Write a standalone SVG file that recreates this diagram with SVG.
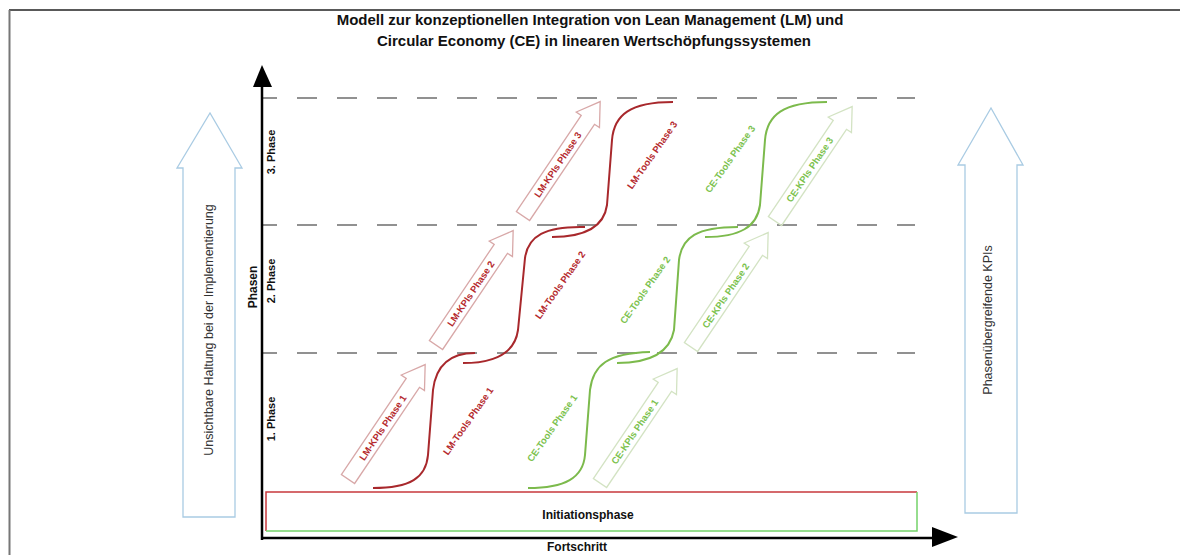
<svg xmlns="http://www.w3.org/2000/svg" width="1180" height="555" viewBox="0 0 1180 555">
<style>
  text { font-family: "Liberation Sans", Arial, sans-serif; }
  .title { font-size: 15px; font-weight: bold; fill: #111; text-anchor: middle; }
  .lab { font-size: 12px; font-weight: bold; fill: #111; text-anchor: middle; }
  .side { font-size: 12.5px; fill: #333; text-anchor: middle; }
  .dash { stroke: #6e6e6e; stroke-width: 1.5; stroke-dasharray: 20 20; stroke-dashoffset: 6; fill: none; }
  .lmk { fill: none; stroke: #d8a8a8; stroke-width: 1.3; }
  .cek { fill: none; stroke: #d3e3c3; stroke-width: 1.3; }
  .lmt { fill: none; stroke: #a8282c; stroke-width: 2; }
  .cet { fill: none; stroke: #7cba4c; stroke-width: 2; }
  .lmtx { font-size: 9.5px; font-weight: bold; fill: #b52a2e; text-anchor: middle; dominant-baseline: central; }
  .cetx { font-size: 9.5px; font-weight: bold; fill: #7cc24e; text-anchor: middle; dominant-baseline: central; }
  .blue { fill: none; stroke: #a9cbe3; stroke-width: 1.3; }
</style>
<defs>
  <path id="kpiArrow" d="M0,-8 L116,-8 L116,-14 L138,0 L116,14 L116,8 L0,8 Z"/>
</defs>
<rect x="0" y="0" width="1180" height="555" fill="#ffffff"/>
<g id="frame">
  <line x1="9" y1="10" x2="1180" y2="10" stroke="#222" stroke-width="1.5"/>
  <line x1="9.5" y1="10" x2="9.5" y2="555" stroke="#777" stroke-width="2"/>
</g>
<g id="title">
  <text class="title" x="590" y="25">Modell zur konzeptionellen Integration von Lean Management (LM) und</text>
  <text class="title" x="594" y="46">Circular Economy (CE) in linearen Wertschöpfungssystemen</text>
</g>
<g id="left-arrow">
  <path class="blue" d="M183,517 L183,168 L177,168 L210,113 L242,168 L235,168 L235,517 Z"/>
  <text class="side" transform="translate(213,330) rotate(-90)">Unsichtbare Haltung bei der Implementierung</text>
</g>
<g id="right-arrow">
  <path class="blue" d="M965,513 L965,165 L958,165 L991,108 L1023,165 L1017,165 L1017,513 Z"/>
  <text class="side" transform="translate(992,320) rotate(-90)">Phasenübergreifende KPIs</text>
</g>
<g id="phase-lines">
  <line class="dash" x1="263" y1="98" x2="915" y2="98"/>
  <line class="dash" x1="263" y1="225" x2="915" y2="225"/>
  <line class="dash" x1="263" y1="353" x2="915" y2="353"/>
</g>
<g id="axes">
  <line x1="262" y1="540" x2="262" y2="84" stroke="#000" stroke-width="2.5"/>
  <polygon points="262,65 253,87 272,87" fill="#000"/>
  <line x1="261" y1="538" x2="934" y2="538" stroke="#000" stroke-width="2.5"/>
  <polygon points="958,537 932,527 932,547" fill="#000"/>
  <text class="lab" transform="translate(257,287) rotate(-90)">Phasen</text>
  <text class="lab" x="577" y="551">Fortschritt</text>
  <text class="lab" style="font-size:11px" transform="translate(275,419) rotate(-90)">1. Phase</text>
  <text class="lab" style="font-size:11px" transform="translate(275,281) rotate(-90)">2. Phase</text>
  <text class="lab" style="font-size:11px" transform="translate(275,152) rotate(-90)">3. Phase</text>
</g>
<g id="initiationsphase">
  <path d="M266,531 L266,492 L917,492" fill="none" stroke="#c8383c" stroke-width="1.5"/>
  <path d="M917,492 L917,531 L266,531" fill="none" stroke="#74d26a" stroke-width="1.5"/>
  <text class="lab" x="588" y="519">Initiationsphase</text>
</g>
<g id="lm-kpis-1" transform="translate(348,479) rotate(-56)">
  <use href="#kpiArrow" class="lmk"/>
  <text class="lmtx" x="62" y="0">LM-KPIs Phase 1</text>
</g>
<g id="lm-kpis-2" transform="translate(436,345) rotate(-56)">
  <use href="#kpiArrow" class="lmk"/>
  <text class="lmtx" x="62" y="0">LM-KPIs Phase 2</text>
</g>
<g id="lm-kpis-3" transform="translate(523,216) rotate(-56)">
  <use href="#kpiArrow" class="lmk"/>
  <text class="lmtx" x="62" y="0">LM-KPIs Phase 3</text>
</g>
<g id="ce-kpis-1" transform="translate(600,483) rotate(-56)">
  <use href="#kpiArrow" class="cek"/>
  <text class="cetx" x="62" y="0">CE-KPIs Phase 1</text>
</g>
<g id="ce-kpis-2" transform="translate(691,347) rotate(-56)">
  <use href="#kpiArrow" class="cek"/>
  <text class="cetx" x="62" y="0">CE-KPIs Phase 2</text>
</g>
<g id="ce-kpis-3" transform="translate(775,221) rotate(-56)">
  <use href="#kpiArrow" class="cek"/>
  <text class="cetx" x="62" y="0">CE-KPIs Phase 3</text>
</g>
<g id="lm-tools-1">
  <path class="lmt" d="M373,488 C410,488 426,478 428,455 L433,390 C436,365 450,353 475,353"/>
  <text class="lmtx" transform="translate(468,421) rotate(-55)">LM-Tools Phase 1</text>
</g>
<g id="lm-tools-2">
  <path class="lmt" d="M463,363 C497,363 515,352 518,330 L525,258 C528,236 545,226 585,227"/>
  <text class="lmtx" transform="translate(560,285) rotate(-55)">LM-Tools Phase 2</text>
</g>
<g id="lm-tools-3">
  <path class="lmt" d="M552,237 C585,237 604,227 607,205 L612,140 C614,115 630,102 673,102"/>
  <text class="lmtx" transform="translate(652,155) rotate(-55)">LM-Tools Phase 3</text>
</g>
<g id="ce-tools-1">
  <path class="cet" d="M528,488 C565,488 583,478 585,455 L590,390 C593,365 608,353 650,352"/>
  <text class="cetx" transform="translate(552,428) rotate(-55)">CE-Tools Phase 1</text>
</g>
<g id="ce-tools-2">
  <path class="cet" d="M617,363 C650,363 670,352 674,330 L679,260 C682,237 697,227 738,227"/>
  <text class="cetx" transform="translate(645,290) rotate(-55)">CE-Tools Phase 2</text>
</g>
<g id="ce-tools-3">
  <path class="cet" d="M705,237 C740,237 757,227 760,205 L765,140 C767,115 783,102 827,102"/>
  <text class="cetx" transform="translate(730,159) rotate(-55)">CE-Tools Phase 3</text>
</g>
</svg>
